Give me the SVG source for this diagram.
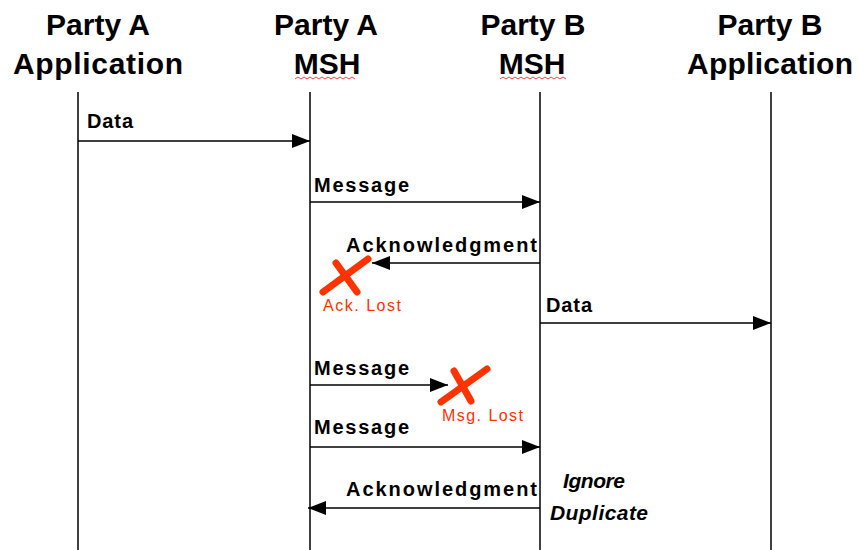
<svg xmlns="http://www.w3.org/2000/svg" width="859" height="550" viewBox="0 0 859 550">
<style>
.hdr{font-family:"Liberation Sans",Arial,sans-serif;font-weight:bold;font-size:30px;fill:#000;text-anchor:middle}
.lbl{font-family:"Liberation Sans",Arial,sans-serif;font-weight:bold;font-size:20px;fill:#000}
.note{font-family:"Liberation Sans",Arial,sans-serif;font-weight:bold;font-style:italic;font-size:21px;fill:#000}
.lost{font-family:"Liberation Sans",Arial,sans-serif;font-size:16px;fill:#ff3300}
.life{stroke:#000;stroke-width:1.5;fill:none}
.msg{stroke:#000;stroke-width:1.5;fill:none;marker-end:url(#ah)}
.x{stroke:#ff3300;stroke-width:7;stroke-linecap:round;fill:none}
.sq{stroke:#ff4040;stroke-width:1;fill:none}
</style>
<defs>
<marker id="ah" viewBox="0 0 18 14" refX="18" refY="7" markerWidth="18" markerHeight="14" markerUnits="userSpaceOnUse" orient="auto">
<path d="M0,0 L18,7 L0,14 Z" fill="#000"/>
</marker>
</defs>
<rect width="859" height="550" fill="#fff"/>
<g id="partyA-app">
<text class="hdr" x="98" y="35">Party A</text>
<text class="hdr" x="98" y="74" textLength="170" lengthAdjust="spacing">Application</text>
<line class="life" x1="78" y1="92" x2="78" y2="550"/>
</g>
<g id="partyA-msh">
<text class="hdr" x="326" y="35">Party A</text>
<text class="hdr" x="327" y="74">MSH</text>
<path class="sq" d="M295,79 l3,-2 l3,2 l3,-2 l3,2 l3,-2 l3,2 l3,-2 l3,2 l3,-2 l3,2 l3,-2 l3,2 l3,-2 l3,2 l3,-2 l3,2 l3,-2 l3,2 l3,-2 l3,2"/>
<line class="life" x1="310" y1="92" x2="310" y2="550"/>
</g>
<g id="partyB-msh">
<text class="hdr" x="533" y="35">Party B</text>
<text class="hdr" x="532" y="74">MSH</text>
<path class="sq" d="M500,79 l3,-2 l3,2 l3,-2 l3,2 l3,-2 l3,2 l3,-2 l3,2 l3,-2 l3,2 l3,-2 l3,2 l3,-2 l3,2 l3,-2 l3,2 l3,-2 l3,2 l3,-2 l3,2 l3,-2 l3,2"/>
<line class="life" x1="540" y1="92" x2="540" y2="550"/>
</g>
<g id="partyB-app">
<text class="hdr" x="770" y="35">Party B</text>
<text class="hdr" x="770" y="74" textLength="166" lengthAdjust="spacing">Application</text>
<line class="life" x1="771" y1="92" x2="771" y2="550"/>
</g>
<g id="connectors">
<line class="msg" x1="78" y1="141" x2="310" y2="141"/>
<text class="lbl" x="87" y="128" textLength="46" lengthAdjust="spacing">Data</text>
<line class="msg" x1="310" y1="202" x2="540" y2="202"/>
<text class="lbl" x="314" y="192" textLength="95" lengthAdjust="spacing">Message</text>
<line class="msg" x1="540" y1="263" x2="372" y2="263"/>
<text class="lbl" x="346" y="252" textLength="191" lengthAdjust="spacing">Acknowledgment</text>
<line class="msg" x1="540" y1="323" x2="771" y2="323"/>
<text class="lbl" x="546" y="312" textLength="46" lengthAdjust="spacing">Data</text>
<line class="msg" x1="310" y1="385" x2="448" y2="385"/>
<text class="lbl" x="314" y="375" textLength="95" lengthAdjust="spacing">Message</text>
<line class="msg" x1="310" y1="447" x2="540" y2="447"/>
<text class="lbl" x="314" y="434" textLength="95" lengthAdjust="spacing">Message</text>
<line class="msg" x1="540" y1="508" x2="308" y2="508"/>
<text class="lbl" x="346" y="496" textLength="191" lengthAdjust="spacing">Acknowledgment</text>
</g>
<g id="ack-lost">
<line class="x" x1="323" y1="292" x2="368" y2="259"/>
<line class="x" x1="336" y1="263" x2="357" y2="292"/>
<text class="lost" x="323" y="311" textLength="78" lengthAdjust="spacing">Ack. Lost</text>
</g>
<g id="msg-lost">
<line class="x" x1="441" y1="402" x2="487" y2="369"/>
<line class="x" x1="454" y1="371" x2="471" y2="401"/>
<text class="lost" x="442" y="421" textLength="81" lengthAdjust="spacing">Msg. Lost</text>
</g>
<g id="ignore-duplicate">
<text class="note" x="563" y="488" textLength="62" lengthAdjust="spacing">Ignore</text>
<text class="note" x="550" y="520" textLength="98" lengthAdjust="spacing">Duplicate</text>
</g>
</svg>
